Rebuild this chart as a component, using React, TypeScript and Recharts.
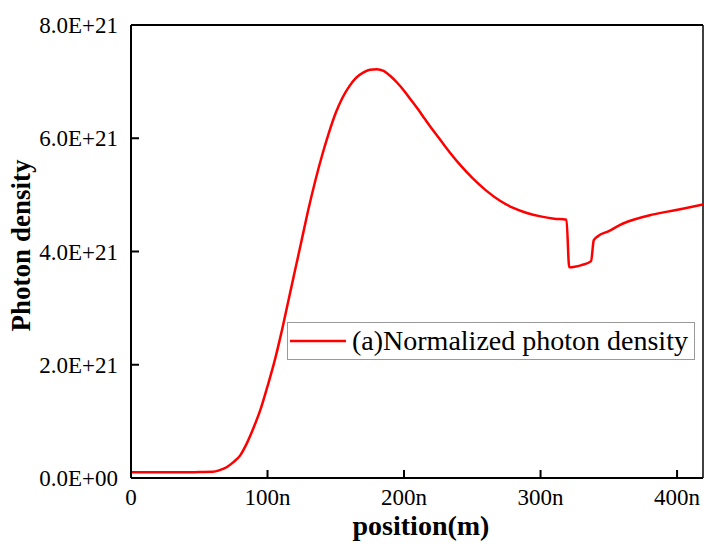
import React from 'react';
import { LineChart, Line, XAxis, YAxis, Legend, ReferenceLine } from 'recharts';

// position in nm
const positions = [
  0, 20, 40, 50, 60, 65, 70, 75, 80, 85, 90, 95, 100, 105, 110, 115, 120, 125, 130, 135,
  140, 145, 150, 155, 160, 165, 170, 175, 180, 185, 190, 195, 200, 205, 210, 215, 220, 225,
  230, 240, 250, 260, 270, 280, 290, 300, 310, 319, 321, 325, 330, 337, 339, 342, 350, 360,
  368, 380, 392, 405, 419,
];
// photon density in units of 1E+21
const density = [
  0.1, 0.1, 0.1, 0.105, 0.11, 0.14, 0.19, 0.28, 0.4, 0.62, 0.9, 1.22, 1.62, 2.05, 2.55, 3.1,
  3.65, 4.2, 4.75, 5.25, 5.7, 6.1, 6.45, 6.72, 6.92, 7.07, 7.16, 7.21, 7.22, 7.19, 7.1, 6.98,
  6.84, 6.68, 6.52, 6.35, 6.18, 6.02, 5.86, 5.56, 5.3, 5.08, 4.9, 4.77, 4.68, 4.62, 4.58,
  4.56, 3.72, 3.73, 3.76, 3.83, 4.2, 4.27, 4.36, 4.49, 4.56, 4.64, 4.7, 4.76, 4.83,
];
const xTicks = [0, 100, 200, 300, 400];
const yTicks = [0, 2e21, 4e21, 6e21, 8e21];
const xMax = 419;
const yMax = 8e21;
const seriesName = '(a)Normalized photon density';

const data = positions.map((p, i) => ({ pos: p, val: density[i] * 1e21 }));

const FONT = '"Liberation Serif", "Times New Roman", serif';
const TICK_FS = 23;

const fmtX = (v: number) => (v === 0 ? '0' : `${v}n`);
const fmtY = (v: number) => {
  if (v === 0) return '0.0E+00';
  return `${(v / 1e21).toFixed(1)}E+21`;
};

const tickStyle = { fontFamily: FONT, fontSize: TICK_FS, fill: '#000' };

const LegendBox = () => (
  <div
    style={{
      width: 408,
      height: 38,
      boxSizing: 'border-box',
      border: '1px solid #9a9a9a',
      background: '#fff',
      display: 'flex',
      alignItems: 'center',
      fontFamily: FONT,
      fontSize: 28,
      color: '#000',
      whiteSpace: 'nowrap',
    }}
  >
    <svg width={62} height={10} style={{ marginLeft: 2, flex: 'none' }}>
      <line x1={0} x2={56} y1={5} y2={5} stroke="#ff0000" strokeWidth={2.5} />
    </svg>
    <span style={{ lineHeight: '30px' }}>{seriesName}</span>
  </div>
);

const YTitle = (props: any) => {
  const vb = props.viewBox || { x: 0, y: 0, width: 0, height: 0 };
  const cx = vb.x + 21;
  const cy = vb.y + vb.height / 2 - 6;
  return (
    <text
      x={cx}
      y={cy}
      transform={`rotate(-90, ${cx}, ${cy})`}
      textAnchor="middle"
      dominantBaseline="central"
      style={{ fontFamily: FONT, fontSize: 27, fontWeight: 'bold', fill: '#000' }}
    >
      Photon density
    </text>
  );
};

export default function App() {
  return (
    <div style={{ position: 'absolute', left: 0, top: 0, width: 704, height: 546, background: '#fff' }}>
      <LineChart width={704} height={546} data={data} margin={{ top: 25, right: 1, left: 0, bottom: 0 }}>
        <XAxis
          dataKey="pos"
          type="number"
          domain={[0, xMax]}
          ticks={xTicks}
          allowDataOverflow
          height={68}
          tickSize={-8}
          tickMargin={19}
          tickFormatter={fmtX}
          tick={tickStyle}
          tickLine={{ stroke: '#000', strokeWidth: 2 }}
          axisLine={{ stroke: '#000', strokeWidth: 2 }}
          label={{
            value: 'position(m)',
            position: 'insideBottom',
            offset: 11,
            dx: 4,
            style: { fontFamily: FONT, fontSize: 28, fontWeight: 'bold', fill: '#000' },
          }}
        />
        <YAxis
          type="number"
          domain={[0, yMax]}
          ticks={yTicks}
          allowDataOverflow
          width={131}
          tickSize={-8}
          tickMargin={21}
          tickFormatter={fmtY}
          tick={tickStyle}
          tickLine={{ stroke: '#000', strokeWidth: 2 }}
          axisLine={{ stroke: '#000', strokeWidth: 2 }}
          label={{ position: 'insideLeft', content: <YTitle /> }}
        />
        <ReferenceLine y={yMax} stroke="#000" strokeWidth={2} ifOverflow="visible" />
        <ReferenceLine x={xMax} stroke="#000" strokeWidth={1.5} ifOverflow="visible" />
        <Legend
          layout="vertical"
          align="center"
          verticalAlign="middle"
          content={<LegendBox />}
          wrapperStyle={{ position: 'absolute', left: 287, top: 322, width: 408, height: 38 }}
        />
        <Line
          type="monotone"
          dataKey="val"
          name={seriesName}
          stroke="#ff0000"
          strokeWidth={2.5}
          dot={false}
          activeDot={false}
          isAnimationActive={false}
        />
      </LineChart>
    </div>
  );
}
